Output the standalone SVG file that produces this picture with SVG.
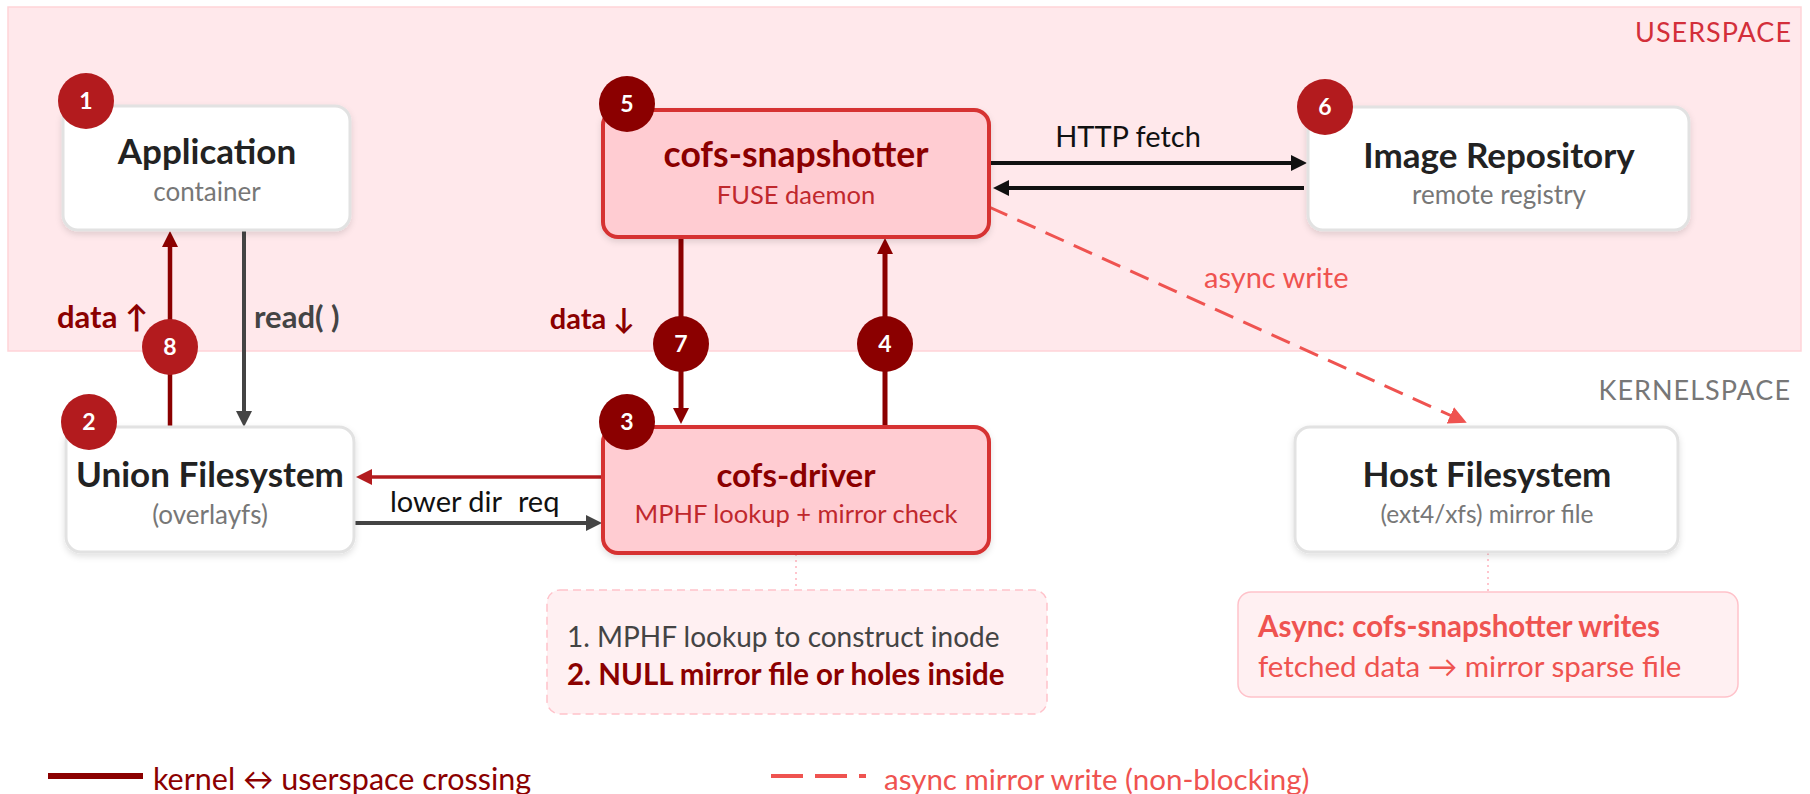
<svg xmlns="http://www.w3.org/2000/svg" width="1810" height="794" viewBox="0 0 1810 794">
<style>
text{font-family:Lato,"Liberation Sans","DejaVu Sans",sans-serif}
.title{font-size:35px;font-weight:700;fill:#222;text-anchor:middle}
.sub{font-size:26px;fill:#777;text-anchor:middle}
.wbox{fill:#fff;stroke:#e2e2e2;stroke-width:3}
.rbox{fill:#ffccd2;stroke:#d63333;stroke-width:4}
.rtitle{font-size:35.5px;font-weight:700;fill:#8b0000;text-anchor:middle}
.rsub{font-size:25.5px;fill:#c0282d;text-anchor:middle}
.badge-b{fill:#b31b1e}
.badge-d{fill:#8b0000}
.bnum{font-size:23px;font-weight:700;fill:#fff;text-anchor:middle}
.lbl{font-size:29px}
.blbl{font-size:31px;font-weight:700}
.zone{font-size:27px;letter-spacing:1px;text-anchor:end}
.note{font-size:28px}
.bnote{font-size:29.5px;font-weight:700}
</style>
<defs>
<filter id="sh" x="-10%" y="-10%" width="120%" height="130%">
<feDropShadow dx="0" dy="3" stdDeviation="3" flood-color="#000" flood-opacity="0.12"/>
</filter>
<marker id="aDark" markerUnits="userSpaceOnUse" markerWidth="16" markerHeight="16" viewBox="0 0 16 16" refX="3" refY="8" orient="auto"><path d="M0,0 L16,8 L0,16 z" fill="#8b0000"/></marker>
<marker id="aGray" markerUnits="userSpaceOnUse" markerWidth="16" markerHeight="16" viewBox="0 0 16 16" refX="3" refY="8" orient="auto"><path d="M0,0 L16,8 L0,16 z" fill="#444"/></marker>
<marker id="aBlack" markerUnits="userSpaceOnUse" markerWidth="16" markerHeight="16" viewBox="0 0 16 16" refX="3" refY="8" orient="auto"><path d="M0,0 L16,8 L0,16 z" fill="#111"/></marker>
<marker id="aRed" markerUnits="userSpaceOnUse" markerWidth="16" markerHeight="16" viewBox="0 0 16 16" refX="3" refY="8" orient="auto"><path d="M0,0 L16,8 L0,16 z" fill="#b31b1e"/></marker>
<marker id="aAsync" markerUnits="userSpaceOnUse" markerWidth="18" markerHeight="18" viewBox="0 0 18 18" refX="4" refY="9" orient="auto"><path d="M0,0 L18,9 L0,18 z" fill="#ef5350"/></marker>
</defs>

<rect width="1810" height="794" fill="#fff"/>
<g id="zones">
<rect x="8" y="7" width="1793" height="344" fill="#ffe8eb" stroke="#ffd3d8" stroke-width="1.5"/>
<text class="zone" x="1792" y="42" fill="#d32f3a">USERSPACE</text>
<text class="zone" x="1791" y="400" fill="#777">KERNELSPACE</text>
</g>

<g id="connectors">
<line x1="170" y1="427" x2="170" y2="244" stroke="#8b0000" stroke-width="4.5" marker-end="url(#aDark)"/>
<line x1="244" y1="230" x2="244" y2="414" stroke="#444" stroke-width="4" marker-end="url(#aGray)"/>
<line x1="681" y1="237" x2="681" y2="411" stroke="#8b0000" stroke-width="5" marker-end="url(#aDark)"/>
<line x1="885" y1="427" x2="885" y2="251" stroke="#8b0000" stroke-width="5" marker-end="url(#aDark)"/>
<line x1="989" y1="163" x2="1294" y2="163" stroke="#111" stroke-width="4" marker-end="url(#aBlack)"/>
<line x1="1304" y1="188" x2="1006" y2="188" stroke="#111" stroke-width="4" marker-end="url(#aBlack)"/>
<line x1="603" y1="477" x2="369" y2="477" stroke="#b31b1e" stroke-width="3.5" marker-end="url(#aRed)"/>
<line x1="355" y1="523" x2="589" y2="523" stroke="#444" stroke-width="4" marker-end="url(#aGray)"/>
<line x1="989" y1="207" x2="1454" y2="417" stroke="#ef5350" stroke-width="3" stroke-dasharray="20 11" marker-end="url(#aAsync)"/>
<line x1="796" y1="554" x2="796" y2="589" stroke="#ffb3bd" stroke-width="1.5" stroke-dasharray="2 4"/>
<line x1="1488" y1="553" x2="1488" y2="592" stroke="#ffb3bd" stroke-width="1.5" stroke-dasharray="2 4"/>
<text class="lbl" x="1128" y="147" text-anchor="middle" fill="#111">HTTP fetch</text>
<text class="blbl" x="57" y="328" fill="#8b0000">data ↑</text>
<text class="blbl" x="254" y="328" fill="#444">read( )</text>
<text class="blbl" x="635" y="329" fill="#8b0000" text-anchor="end" style="font-size:29px">data ↓</text>
<text class="lbl" x="390" y="512" fill="#111">lower dir <tspan dx="9">req</tspan></text>
<text class="lbl" x="1204" y="288" fill="#ef5350">async write</text>
</g>

<g id="n1-application">
<rect class="wbox" x="63" y="106" width="287" height="124" rx="15" filter="url(#sh)"/>
<text class="title" x="207" y="164">Application</text>
<text class="sub" x="207" y="201">container</text>
<circle class="badge-b" cx="86" cy="101" r="28"/>
<text class="bnum" x="86" y="109">1</text>
</g>

<g id="n5-snapshotter">
<rect class="rbox" x="603" y="110" width="386" height="127" rx="15" filter="url(#sh)"/>
<text class="rtitle" x="796" y="167">cofs-snapshotter</text>
<text class="rsub" x="796" y="204">FUSE daemon</text>
<circle class="badge-d" cx="627" cy="104" r="28"/>
<text class="bnum" x="627" y="112">5</text>
</g>

<g id="n6-repository">
<rect class="wbox" x="1308" y="107" width="381" height="123" rx="15" filter="url(#sh)"/>
<text class="title" x="1499" y="168">Image Repository</text>
<text class="sub" x="1499" y="204">remote registry</text>
<circle class="badge-b" cx="1325" cy="107" r="28"/>
<text class="bnum" x="1325" y="115">6</text>
</g>

<g id="n2-union">
<rect class="wbox" x="66" y="427" width="288" height="125" rx="15" filter="url(#sh)"/>
<text class="title" x="210" y="487">Union Filesystem</text>
<text class="sub" x="210" y="524">(overlayfs)</text>
<circle class="badge-b" cx="89" cy="422" r="28"/>
<text class="bnum" x="89" y="430">2</text>
</g>

<g id="n3-driver">
<rect class="rbox" x="603" y="427" width="386" height="126" rx="15" filter="url(#sh)"/>
<text class="rtitle" x="796" y="487" style="font-size:33px">cofs-driver</text>
<text class="rsub" x="796" y="523">MPHF lookup + mirror check</text>
<circle class="badge-d" cx="627" cy="422" r="28"/>
<text class="bnum" x="627" y="430">3</text>
</g>

<g id="n-host">
<rect class="wbox" x="1295" y="427" width="383" height="125" rx="15" filter="url(#sh)"/>
<text class="title" x="1487" y="487">Host Filesystem</text>
<text class="sub" x="1487" y="523" style="font-size:24.5px">(ext4/xfs) mirror file</text>
</g>

<g id="b4">
<circle class="badge-d" cx="885" cy="344" r="28"/>
<text class="bnum" x="885" y="352">4</text>
</g>
<g id="b7">
<circle class="badge-d" cx="681" cy="344" r="28"/>
<text class="bnum" x="681" y="352">7</text>
</g>
<g id="b8">
<circle class="badge-b" cx="170" cy="347" r="28"/>
<text class="bnum" x="170" y="355">8</text>
</g>

<g id="note-driver">
<rect x="547" y="590" width="500" height="124" rx="13" fill="#fff0f2" stroke="#ffc2ca" stroke-width="1.5" stroke-dasharray="8 5"/>
<text class="note" x="567" y="647" fill="#444">1. MPHF lookup to construct inode</text>
<text class="bnote" x="567" y="685" fill="#8b0000">2. NULL mirror file or holes inside</text>
</g>

<g id="note-host">
<rect x="1238" y="592" width="500" height="105" rx="13" fill="#fff0f2" stroke="#ffc2ca" stroke-width="1.5"/>
<text class="bnote" x="1258" y="637" fill="#ef5350">Async: cofs-snapshotter writes</text>
<text class="note" x="1258" y="677" fill="#ef5350" style="font-size:29.5px">fetched data → mirror sparse file</text>
</g>

<g id="legend">
<line x1="48" y1="776" x2="143" y2="776" stroke="#8b0000" stroke-width="6"/>
<text x="153" y="790" fill="#8b0000" font-size="30.5">kernel ↔ userspace crossing</text>
<line x1="771" y1="776" x2="866" y2="776" stroke="#ef5350" stroke-width="4" stroke-dasharray="32 12"/>
<text x="884" y="790" fill="#ef5350" font-size="29.5">async mirror write (non-blocking)</text>
</g>
</svg>
